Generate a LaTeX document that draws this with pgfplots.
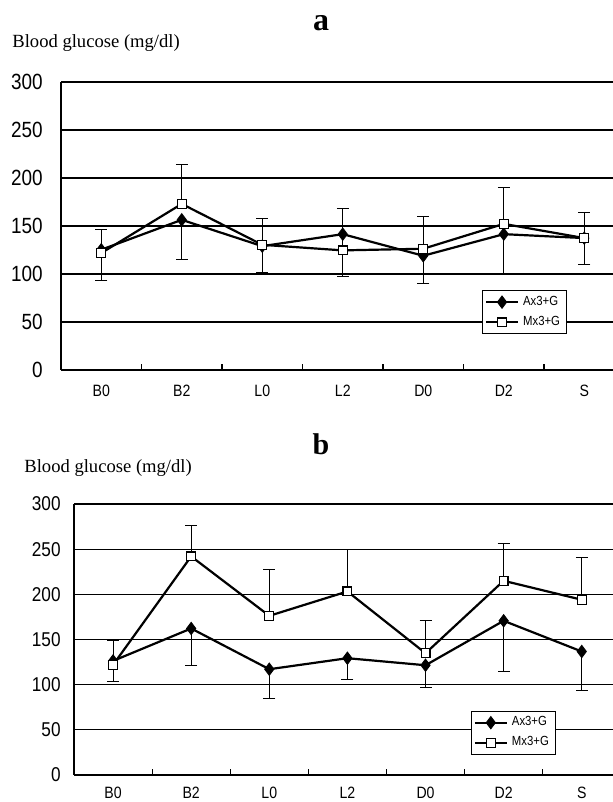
\documentclass[border=0pt]{standalone}
\usepackage{fontspec}
\setmainfont{Liberation Serif}
\newfontfamily\lab[FakeStretch=0.86]{Liberation Sans}
\usepackage{pgfplots}
\pgfplotsset{compat=1.18}

\pgfplotsset{
  glu/.style={
    scale only axis, clip=false,
    axis x line=bottom, axis y line=left,
    axis line style={-, black, line width=0.6pt},
    ymin=0, ymax=300, ytick={0,50,...,300},
    ymajorgrids, major grid style={black, line width=0.6pt},
    xmin=-0.5, xtick={0,...,6}, xticklabels={B0,B2,L0,L2,D0,D2,S},
    major tick length=0pt,
    extra x ticks={0.5,1.5,...,5.5}, extra x tick labels={},
    extra x tick style={major tick length=3pt, tick align=inside,
      tick style={black, line width=0.6pt}},
    /pgf/number format/assume math mode=true,
    tick label style={inner sep=0pt},
    legend cell align=left,
    legend style={draw=black, line width=0.5pt, fill=white,
      font=\lab\fontsize{6.6}{7.2}\selectfont,
      inner xsep=1.2pt, inner ysep=0.6pt, row sep=0pt},
    legend image code/.code={\draw[##1, mark repeat=2, mark phase=2]
      plot coordinates {(0pt,0pt) (8pt,0pt) (16pt,0pt)};},
  },
  ax/.style={black, line width=1.1pt, mark=diamond*, mark size=3.1pt,
    mark options={solid, fill=black, line width=0.4pt},
    error bars/.cd, y dir=minus, y explicit,
    error bar style={black, line width=0.55pt},
    error mark options={rotate=90, mark size=3pt, line width=0.55pt}},
  mx/.style={black, line width=1.1pt, mark=square*, mark size=2.2pt,
    mark options={solid, fill=white, line width=0.6pt},
    error bars/.cd, y dir=plus, y explicit,
    error bar style={black, line width=0.55pt},
    error mark options={rotate=90, mark size=3pt, line width=0.55pt}},
}

\begin{document}
\begin{tikzpicture}
\useasboundingbox (0,0) rectangle (306.5pt,401pt);

% panel a
\node[font=\bfseries\fontsize{16}{18}\selectfont, anchor=base] at (160.5pt,385.5pt) {a};
\node[font=\fontsize{9.3}{11}\selectfont, anchor=base west, inner sep=0pt] at (6pt,377pt) {Blood glucose (mg/dl)};
\begin{axis}[glu, at={(30.5pt,216pt)}, anchor=south west,
    width=276pt, height=144pt, xmax=6.357,
    yticklabel style={font=\lab\fontsize{11}{12}\selectfont, xshift=-9pt},
    xticklabel style={font=\lab\fontsize{8.2}{9}\selectfont, yshift=-7.5pt},
    legend style={at={(axis cs:4.73,83)}, anchor=north west}]
\addplot[ax] coordinates {
  (0,125.3) +- (0,32.3) (1,156.4) +- (0,41.5) (2,129.0) +- (0,28.0)
  (3,141.5) +- (0,44.3) (4,119.0) +- (0,29.0) (5,141.5) +- (0,41.8)
  (6,137.4) +- (0,27.7)};
\addplot[mx] coordinates {
  (0,121.8) +- (0,24.2) (1,173.0) +- (0,40.8) (2,130.4) +- (0,27.6)
  (3,124.6) +- (0,43.2) (4,126.3) +- (0,33.2) (5,152.2) +- (0,37.8)
  (6,137.4) +- (0,26.6)};
\legend{Ax3+G, Mx3+G}
\end{axis}

% panel b
\node[font=\bfseries\fontsize{15}{17}\selectfont, anchor=base] at (160.5pt,173.5pt) {b};
\node[font=\fontsize{9.3}{11}\selectfont, anchor=base west, inner sep=0pt] at (12pt,164.5pt) {Blood glucose (mg/dl)};
\begin{axis}[glu, at={(37pt,13.5pt)}, anchor=south west,
    width=269.5pt, height=135.5pt, xmax=6.40,
    yticklabel style={font=\lab\fontsize{10}{11}\selectfont, xshift=-6.5pt},
    xticklabel style={font=\lab\fontsize{8.2}{9}\selectfont, yshift=-6pt},
    legend style={at={(axis cs:4.58,71)}, anchor=north west}]
\addplot[ax] coordinates {
  (0,126.3) +- (0,22.5) (1,162.2) +- (0,41.4) (2,117.1) +- (0,32.5)
  (3,129.3) +- (0,24.0) (4,121.5) +- (0,25.1) (5,170.7) +- (0,56.6)
  (6,136.7) +- (0,42.9)};
\addplot[mx] coordinates {
  (0,121.9) +- (0,27.0) (1,242.0) +- (0,34.0) (2,176.2) +- (0,51.0)
  (3,203.2) +- (0,46.2) (4,134.8) +- (0,36.2) (5,215.0) +- (0,41.7)
  (6,194.0) +- (0,46.5)};
\legend{Ax3+G, Mx3+G}
\end{axis}
\end{tikzpicture}
\end{document}
